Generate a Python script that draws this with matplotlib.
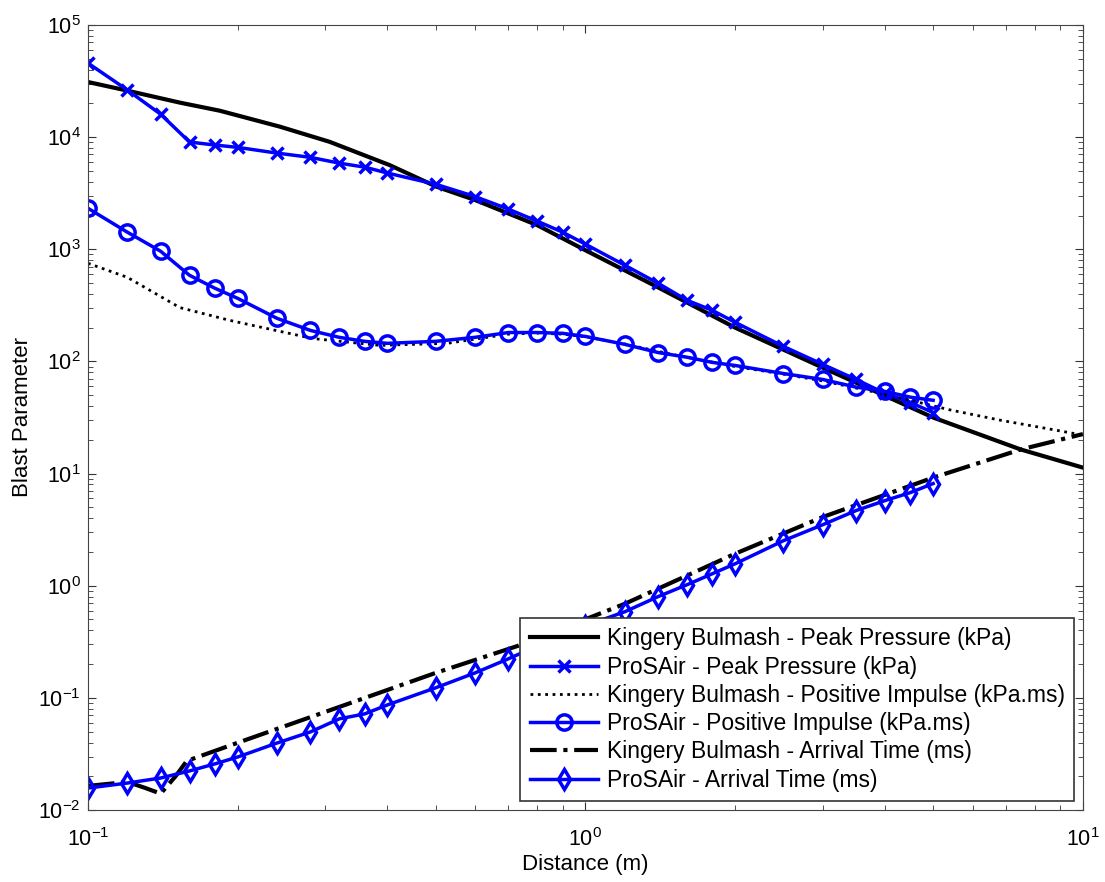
import matplotlib
matplotlib.use('Agg')
import matplotlib.pyplot as plt

plt.rcParams['font.family'] = ['Liberation Sans', 'DejaVu Sans']
plt.rcParams['mathtext.fontset'] = 'custom'
plt.rcParams['mathtext.rm'] = 'Liberation Sans'
plt.rcParams['mathtext.it'] = 'Liberation Sans'
plt.rcParams['axes.unicode_minus'] = False

# Kingery Bulmash - Peak Pressure (kPa)
kb_pp_x = [0.1, 0.118, 0.153, 0.184, 0.243, 0.306, 0.404, 0.502, 0.6, 0.8, 1.0, 1.4, 2.0, 3.0, 5.0, 7.5, 10]
kb_pp_y = [31000, 26400, 20300, 17200, 12400, 9080, 5630, 3610, 2750, 1640, 980, 457, 200, 88, 31.6, 16.4, 11.3]

# Kingery Bulmash - Positive Impulse (kPa.ms)
kb_imp_x = [0.1, 0.12, 0.153, 0.193, 0.283, 0.386, 0.528, 0.6, 0.7, 0.8, 0.9, 1.0, 1.2, 1.5, 2.0, 2.5, 3.0, 4.0, 5.4, 6.8, 9.0, 10]
kb_imp_y = [750, 562, 302, 232, 160, 139, 145, 158, 175, 179, 175, 166, 143, 115, 90, 77, 67, 51, 37, 30, 24, 22]

# Kingery Bulmash - Arrival Time (ms)
kb_at_x = [0.1, 0.12, 0.13, 0.14, 0.15, 0.158, 0.2, 0.3, 0.5, 0.73, 1.2, 2.0, 3.0, 5.0, 7.5, 10]
kb_at_y = [0.0164, 0.0178, 0.0158, 0.0140, 0.020, 0.0274, 0.0398, 0.075, 0.167, 0.29, 0.69, 1.93, 4.1, 9.2, 16.4, 22.5]

# ProSAir distances
ps_x = [0.1, 0.12, 0.14, 0.16, 0.18, 0.2, 0.24, 0.28, 0.32, 0.36, 0.4, 0.5, 0.6, 0.7, 0.8,
        0.9, 1.0, 1.2, 1.4, 1.6, 1.8, 2.0, 2.5, 3.0, 3.5, 4.0, 4.5, 5.0]
ps_pp = [45700, 26300, 16000, 9040, 8500, 8100, 7200, 6600, 5860, 5400, 4780, 3800, 2950, 2280,
         1780, 1420, 1110, 720, 497, 351, 285, 223, 136, 94, 69, 52, 43, 35]
ps_imp = [2320, 1420, 960, 586, 449, 365, 242, 189, 164, 151, 145, 151, 164, 181, 181,
          178, 167, 142, 120, 109, 98, 92, 78, 69, 59, 54, 48, 45]
ps_at = [0.0157, 0.0174, 0.0193, 0.0223, 0.0258, 0.0297, 0.0396, 0.0497, 0.065, 0.072, 0.0866,
         0.123, 0.167, 0.223, 0.29, 0.36, 0.44, 0.586, 0.80, 1.02, 1.28, 1.57, 2.52, 3.5, 4.68,
         5.74, 6.77, 8.15]

fig = plt.figure(figsize=(11.05, 8.82), dpi=100)
ax = fig.add_axes([0.0796, 0.0816, 0.9004, 0.8901])

ax.plot(kb_pp_x, kb_pp_y, 'k-', lw=3, label='Kingery Bulmash - Peak Pressure (kPa)')
ax.plot(ps_x, ps_pp, '-', color='#0000ff', lw=2.5, marker='x', ms=9, mew=2.5,
        label='ProSAir - Peak Pressure (kPa)')
ax.plot(kb_imp_x, kb_imp_y, 'k:', lw=2, label='Kingery Bulmash - Positive Impulse (kPa.ms)')
ax.plot(ps_x, ps_imp, '-', color='#0000ff', lw=2.5, marker='o', ms=11, mew=2.5, mfc='none',
        label='ProSAir - Positive Impulse (kPa.ms)')
ax.plot(kb_at_x, kb_at_y, 'k-.', lw=3, label='Kingery Bulmash - Arrival Time (ms)')
ax.plot(ps_x, ps_at, '-', color='#0000ff', lw=2.5, marker='d', ms=10, mew=2.5, mfc='none',
        label='ProSAir - Arrival Time (ms)')

ax.set_xscale('log')
ax.set_yscale('log')
ax.set_xlim(0.1, 10)
ax.set_ylim(1e-2, 1e5)
ax.tick_params(which='both', direction='in', top=True, right=True, labelsize=15.5, color='#333333')
ax.tick_params(axis='x', which='major', pad=13)
ax.tick_params(axis='y', which='major', pad=5)
ax.tick_params(which='major', length=6)
ax.tick_params(which='minor', length=3.8)
for s in ax.spines.values():
    s.set_color('#444444')

ax.set_xlabel('Distance (m)', fontsize=16, labelpad=2)
ax.set_ylabel('Blast Parameter', fontsize=16, labelpad=4)

leg = ax.legend(loc='lower right', fontsize=16.5, handlelength=3.0, frameon=True, fancybox=False,
                edgecolor='#333333', framealpha=1, borderaxespad=0.4, labelspacing=0.23,
                borderpad=0.4, handletextpad=0.36)
leg.get_frame().set_linewidth(1.2)

fig.savefig('out.png', dpi=100)
